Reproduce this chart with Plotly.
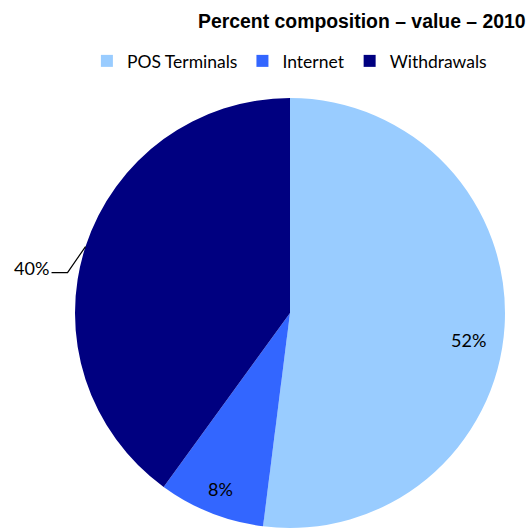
import math
import plotly.graph_objects as go

# Payment channel shares of transaction value, 2010
categories = ["POS Terminals", "Internet", "Withdrawals"]
shares = [52, 8, 40]
colors = ["#99CCFF", "#3366FF", "#000080"]

W, H = 531, 530
# pie placement in pixels (center and radius)
cx, cy, r = 290, 313, 215

fig = go.Figure(go.Pie(
    labels=categories,
    values=shares,
    marker=dict(colors=colors, line=dict(width=0)),
    sort=False,
    direction="clockwise",
    rotation=0,
    textinfo="none",
    hoverinfo="label+percent",
    domain=dict(x=[(cx - r) / W, (cx + r) / W], y=[(H - cy - r) / H, (H - cy + r) / H]),
))


def px_to_paper(x, y):
    return x / W, 1 - y / H


# slice mid-angles (degrees, clockwise from 12 o'clock)
total = sum(shares)
mids = []
acc = 0
for v in shares:
    mids.append((acc + v / 2) / total * 360)
    acc += v

label_font = dict(family="Lato, Open Sans, sans-serif", size=18, color="#000000")
annotations = []
shapes = []
for name, v, ang in zip(categories, shares, mids):
    a = math.radians(ang)
    if name == "Withdrawals":
        # outside label with leader line
        ex, ey = cx + r * math.sin(a), cy - r * math.cos(a)
        kx, ky = ex - 18, ey + 26
        lx = kx - 16
        x0, y0 = px_to_paper(ex, ey)
        x1, y1 = px_to_paper(kx, ky)
        x2, y2 = px_to_paper(lx, ky)
        shapes.append(dict(type="path", xref="paper", yref="paper",
                           path=f"M {x0},{y0} L {x1},{y1} L {x2},{y2}",
                           line=dict(color="#000000", width=1.2)))
        tx, ty = px_to_paper(lx - 1, ky - 5)
        annotations.append(dict(x=tx, y=ty, xref="paper", yref="paper", text=f"{v}%",
                                showarrow=False, xanchor="right", yanchor="middle", font=label_font))
    else:
        # large slice label sits slightly past its mid-angle
        f = 0.84 if v > 20 else 0.88
        a2 = a + (math.radians(5) if v > 20 else 0)
        x, y = px_to_paper(cx + f * r * math.sin(a2), cy - f * r * math.cos(a2))
        annotations.append(dict(x=x, y=y, xref="paper", yref="paper", text=f"{v}%",
                                showarrow=False, xanchor="center", yanchor="middle", font=label_font))

tx, ty = px_to_paper(362, 21)
annotations.append(dict(x=tx, y=ty, xref="paper", yref="paper",
                        text="<b>Percent composition – value – 2010</b>", showarrow=False,
                        xanchor="center", yanchor="middle",
                        font=dict(family="Liberation Sans", size=19.4, color="#000000")))

fig.update_layout(
    width=W, height=H,
    margin=dict(l=0, r=0, t=0, b=0),
    paper_bgcolor="white",
    plot_bgcolor="white",
    showlegend=True,
    legend=dict(orientation="h", x=0.545, xanchor="center", y=1 - 43 / H, yanchor="top",
                font=dict(family="Lato, Open Sans, sans-serif", size=17.5, color="#000000"),
                itemsizing="constant", traceorder="normal"),
    annotations=annotations,
    shapes=shapes,
)

fig.write_html("out.html")
